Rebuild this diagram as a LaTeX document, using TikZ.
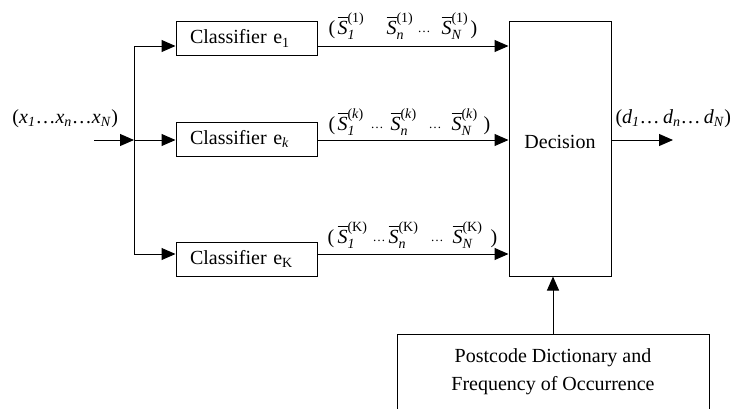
\documentclass[tikz,border=0pt]{standalone}
\usepackage{amsmath}
\usepackage{fontspec}
\setmainfont{Liberation Serif}
\usetikzlibrary{arrows.meta}

% one score term: barred S with sub- and superscript
\newcommand{\sterm}[2]{$\overline{\text{\itshape S}}^{\text{#2}}_{\text{\itshape #1}}$}
% place content at a fixed offset from the start of a line, taking no width
\newcommand{\putat}[2]{\rlap{\hspace*{#1}#2}}
% small run of dots between terms
\newcommand{\sdots}{\raisebox{2pt}{\fontsize{13}{13}\selectfont …}}

\begin{document}
\begin{tikzpicture}[x=1pt, y=-1pt,
    font=\fontsize{20}{24}\selectfont,
    line width=1pt,
    box/.style={draw, line width=1pt, inner sep=0pt},
    clf/.style={box, minimum width=141pt, minimum height=34pt,
                text width=113pt, inner xsep=14pt, align=left},
    arr/.style={-{Triangle[length=14pt, width=12pt]}},
    sig/.style={anchor=base west, inner sep=0pt}]

\useasboundingbox (0,0) rectangle (734,408);

% classifiers
\node[clf] (e1) at (246.5,38.5) {Classifier e\textsubscript{1}};
\node[clf] (ek) at (246.5,139)  {Classifier e\textsubscript{\itshape k}};
\node[clf] (eK) at (246.5,259)  {Classifier e\textsubscript{K}};

% decision stage and dictionary
\node[box, minimum width=102pt, minimum height=255pt] (dec) at (560,148.5)
  {\raisebox{13pt}{Decision}};
\node[box, minimum width=312pt, minimum height=76pt, align=center,
      font=\fontsize{20}{28}\selectfont] (dict) at (553,372)
  {Postcode Dictionary and\\Frequency of Occurrence};

% branch points and free ends
\coordinate (src) at (94,140);
\coordinate (b1) at (134,46);
\coordinate (bk) at (134,140);
\coordinate (bK) at (134,254);
\coordinate (out) at (673,140);

% input fan-out
\draw[arr] (src) -- (bk);
\draw (b1) -- (bK);
\draw[arr] (b1) -- (b1 -| e1.west);
\draw[arr] (bk) -- (bk -| ek.west);
\draw[arr] (bK) -- (bK -| eK.west);

% classifier outputs into decision
\draw[arr] (e1.east |- b1) -- (dec.west |- b1);
\draw[arr] (ek.east |- bk) -- (dec.west |- bk);
\draw[arr] (eK.east |- bK) -- (dec.west |- bK);

% decision output and dictionary input
\draw[arr] (dec.east |- bk) -- (out);
\draw[arr] (dict.north) -- (dict.north |- dec.south);

% input and output sequences
\node[sig] (inlab) at (12,123)
  {(\textit{x}\textsubscript{\textit{1}}…\textit{x}\textsubscript{\textit{n}}…\textit{x}\textsubscript{\textit{N}})};
\node[sig] (outlab) at (615,123)
  {(\textit{d}\textsubscript{\textit{1}}…\,\textit{d}\textsubscript{\textit{n}}…\,\textit{d}\textsubscript{\textit{N}})};

% score vectors
\node[sig] (s1) at (328,34)
  {\putat{0pt}{(}\putat{9pt}{\sterm{1}{(1)}}\putat{58pt}{\sterm{n}{(1)}}%
   \putat{89pt}{\sdots}\putat{113pt}{\sterm{N}{(1)}}\putat{142pt}{)}\hspace*{150pt}};
\node[sig] (sk) at (328,130)
  {\putat{0pt}{(}\putat{9pt}{\sterm{1}{(\textit{k})}}\putat{42pt}{\sdots}%
   \putat{62pt}{\sterm{n}{(\textit{k})}}\putat{100pt}{\sdots}%
   \putat{123pt}{\sterm{N}{(\textit{k})}}\putat{155pt}{)}\hspace*{162pt}};
\node[sig] (sK) at (328,243)
  {\putat{-1pt}{(}\putat{9pt}{\sterm{1}{(K)}}\putat{44pt}{\sdots}%
   \putat{60pt}{\sterm{n}{(K)}}\putat{102pt}{\sdots}%
   \putat{124pt}{\sterm{N}{(K)}}\putat{162pt}{)}\hspace*{168pt}};

\end{tikzpicture}
\end{document}
